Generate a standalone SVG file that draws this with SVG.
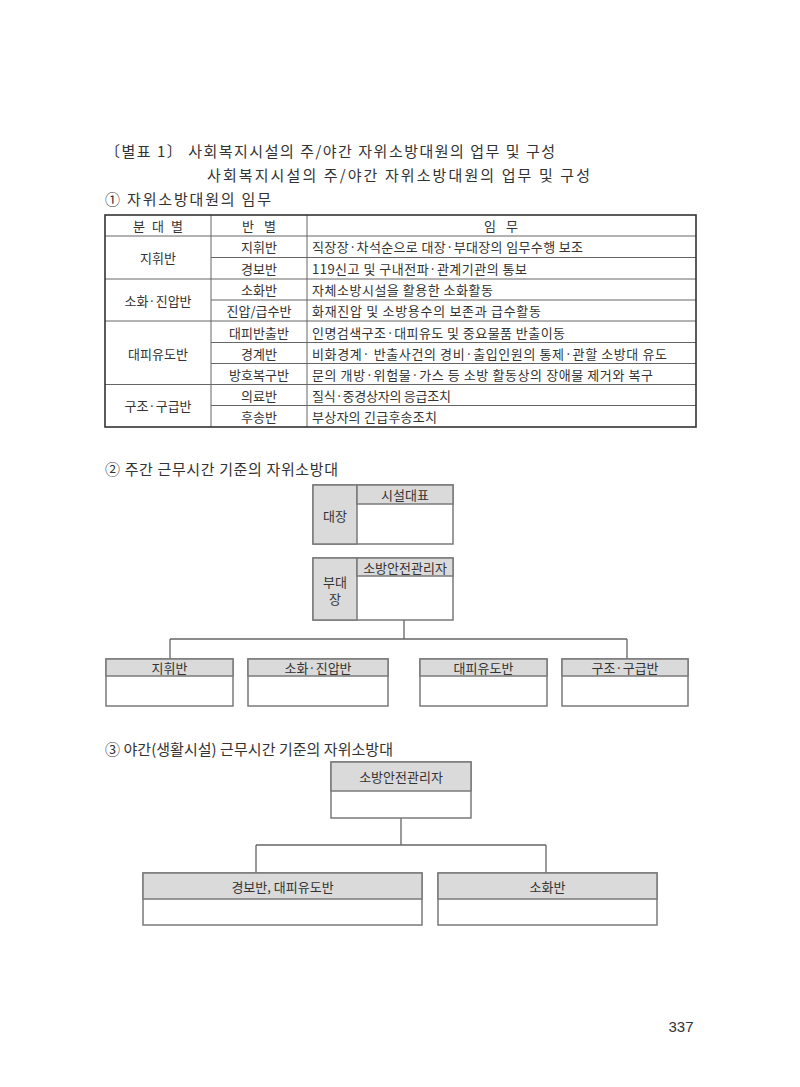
<svg xmlns="http://www.w3.org/2000/svg" width="800" height="1087" viewBox="0 0 800 1087">
<style>
text{font-family:"Noto Sans CJK KR","Noto Sans",sans-serif;fill:#333;dominant-baseline:central}
.t{font-size:15px}
.c{font-size:13px}
.m{text-anchor:middle}
.box{fill:#fff;stroke:#7a7a7a;stroke-width:1.5}
.hd{fill:#dadada;stroke:#7a7a7a;stroke-width:1.5}
.grid{stroke:#666;stroke-width:1;fill:none}
.conn{stroke:#666;stroke-width:1.3;fill:none}
</style>
<rect width="800" height="1087" fill="#fff"/>
<g id="titles">
<text class="t" x="105" y="150" textLength="450" lengthAdjust="spacing">〔별표 1〕 사회복지시설의 주/야간 자위소방대원의 업무 및 구성</text>
<text class="t" x="207" y="174" textLength="383" lengthAdjust="spacing">사회복지시설의 주/야간 자위소방대원의 업무 및 구성</text>
<text class="t" x="105" y="198" textLength="166" lengthAdjust="spacing">① 자위소방대원의 임무</text>
<text class="t" x="105" y="468" textLength="233" lengthAdjust="spacing">② 주간 근무시간 기준의 자위소방대</text>
<text class="t" x="105" y="748" textLength="288" lengthAdjust="spacing">③ 야간(생활시설) 근무시간 기준의 자위소방대</text>
<text x="681" y="1026" style="font-family:'Liberation Sans',Arial,sans-serif;font-size:15px" text-anchor="middle">337</text>
</g>
<g id="table">
<path class="grid" d="M105 236H696M211 257.5H696M105 279H696M211 300H696M105 321H696M211 342.5H696M211 363.5H696M105 384.5H696M211 405.5H696M211 215V427M307 215V427"/>
<rect x="105" y="215" width="591" height="212" fill="none" stroke="#333" stroke-width="1.6"/>
<text class="c m" x="158" y="225.5" textLength="50" lengthAdjust="spacing">분 대 별</text>
<text class="c m" x="259" y="225.5" textLength="34" lengthAdjust="spacing">반 별</text>
<text class="c m" x="501" y="225.5" textLength="34" lengthAdjust="spacing">임 무</text>
<text class="c m" x="158" y="257.5">지휘반</text>
<text class="c m" x="158" y="300">소화·진압반</text>
<text class="c m" x="158" y="353">대피유도반</text>
<text class="c m" x="158" y="405.5">구조·구급반</text>
<text class="c m" x="259" y="246.5">지휘반</text>
<text class="c m" x="259" y="268">경보반</text>
<text class="c m" x="259" y="289.5">소화반</text>
<text class="c m" x="259" y="310.5">진압/급수반</text>
<text class="c m" x="259" y="332">대피반출반</text>
<text class="c m" x="259" y="353">경계반</text>
<text class="c m" x="259" y="374">방호복구반</text>
<text class="c m" x="259" y="395">의료반</text>
<text class="c m" x="259" y="416">후송반</text>
<text class="c" x="312" y="246.5" textLength="271" lengthAdjust="spacing">직장장·차석순으로 대장·부대장의 임무수행 보조</text>
<text class="c" x="312" y="268" textLength="215" lengthAdjust="spacing">119신고 및 구내전파·관계기관의 통보</text>
<text class="c" x="312" y="289.5" textLength="181" lengthAdjust="spacing">자체소방시설을 활용한 소화활동</text>
<text class="c" x="312" y="310.5" textLength="229" lengthAdjust="spacing">화재진압 및 소방용수의 보존과 급수활동</text>
<text class="c" x="312" y="332" textLength="253" lengthAdjust="spacing">인명검색구조·대피유도 및 중요물품 반출이동</text>
<text class="c" x="312" y="353" textLength="355" lengthAdjust="spacing">비화경계· 반출사건의 경비·출입인원의 통제·관할 소방대 유도</text>
<text class="c" x="312" y="374" textLength="341" lengthAdjust="spacing">문의 개방·위험물·가스 등 소방 활동상의 장애물 제거와 복구</text>
<text class="c" x="312" y="395" textLength="139" lengthAdjust="spacing">질식·중경상자의 응급조치</text>
<text class="c" x="312" y="416" textLength="125" lengthAdjust="spacing">부상자의 긴급후송조치</text>
</g>
<g id="connectors">
<path class="conn" d="M404 620V639M170 639H627M170 639V659M627 639V659"/>
<path class="conn" d="M401 818V845M256 845H546M256 845V873M546 845V873"/>
</g>
<g id="n-captain">
<rect class="box" x="313" y="485" width="140" height="59"/>
<rect class="hd" x="313" y="485" width="44" height="59"/>
<rect class="hd" x="357" y="485" width="96" height="19"/>
<text class="c m" x="405" y="494.5">시설대표</text>
<text class="c m" x="335" y="515">대장</text>
</g>
<g id="n-vice">
<rect class="box" x="313" y="558" width="140" height="62"/>
<rect class="hd" x="313" y="558" width="44" height="62"/>
<rect class="hd" x="357" y="558" width="96" height="18"/>
<text class="c m" x="405" y="567">소방안전관리자</text>
<text class="c m" x="335" y="581">부대</text>
<text class="c m" x="335" y="598">장</text>
</g>
<g id="n-command">
<rect class="box" x="106" y="659" width="127" height="47"/>
<rect class="hd" x="106" y="659" width="127" height="17"/>
<text class="c m" x="169.5" y="667.5">지휘반</text>
</g>
<g id="n-fire">
<rect class="box" x="248" y="659" width="140" height="47"/>
<rect class="hd" x="248" y="659" width="140" height="17"/>
<text class="c m" x="318" y="667.5">소화·진압반</text>
</g>
<g id="n-evac">
<rect class="box" x="420" y="659" width="127" height="47"/>
<rect class="hd" x="420" y="659" width="127" height="17"/>
<text class="c m" x="483.5" y="667.5">대피유도반</text>
</g>
<g id="n-rescue">
<rect class="box" x="562" y="659" width="126" height="47"/>
<rect class="hd" x="562" y="659" width="126" height="17"/>
<text class="c m" x="625" y="667.5">구조·구급반</text>
</g>
<g id="n-night-mgr">
<rect class="box" x="331" y="762" width="140" height="56"/>
<rect class="hd" x="331" y="762" width="140" height="29"/>
<text class="c m" x="401" y="776.5">소방안전관리자</text>
</g>
<g id="n-night-alarm">
<rect class="box" x="143" y="873" width="279" height="52"/>
<rect class="hd" x="143" y="873" width="279" height="26"/>
<text class="c m" x="282.5" y="886">경보반, 대피유도반</text>
</g>
<g id="n-night-fire">
<rect class="box" x="438" y="873" width="219" height="52"/>
<rect class="hd" x="438" y="873" width="219" height="26"/>
<text class="c m" x="547.5" y="886">소화반</text>
</g>
</svg>
